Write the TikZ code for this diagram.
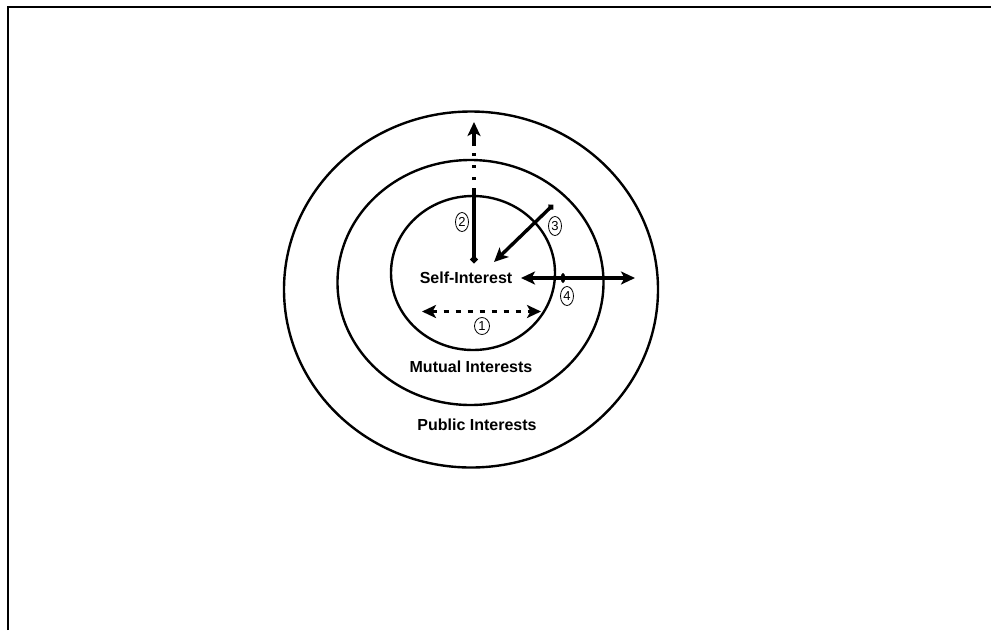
\documentclass[tikz,border=0pt]{standalone}
\usepackage{fontspec}
\setmainfont{Liberation Sans}
\usetikzlibrary{shapes.geometric,arrows.meta}
\tikzset{
  ring/.style={draw, ellipse, line width=2.4pt, inner sep=0pt, outer sep=0pt},
  lbl/.style={font=\fontsize{16}{19}\selectfont\bfseries, inner sep=0pt},
  num/.style={draw, ellipse, line width=0.8pt, inner sep=0pt, minimum width=13pt, minimum height=19pt, font=\fontsize{13}{15}\selectfont},
  shaft/.style={line width=3.4pt},
  headtip/.tip={Stealth[length=14pt,width=13pt,inset=3.5pt]},
  dottip/.tip={Circle[length=7pt]},
  mark4/.style={fill, ellipse, minimum width=4.5pt, minimum height=10pt, inner sep=0pt}
}
\begin{document}
\begin{tikzpicture}[x=1pt,y=-1pt]
\useasboundingbox (0,0) rectangle (991,630);
\fill[white] (0,0) rectangle (991,630);
% frame
\draw[line width=2.5pt] (8,630) -- (8,7) -- (991,7);
% rings
\node[ring, minimum width=374pt, minimum height=356pt] (outer) at (471,289.5) {};
\node[ring, minimum width=266pt, minimum height=245pt] (middle) at (470.5,282.5) {};
\node[ring, minimum width=164pt, minimum height=154pt] (inner) at (473,273) {};
% labels
\node[lbl] (self) at (466,278) {Self-Interest};
\node[lbl] (mutual) at (471,367) {Mutual Interests};
\node[lbl] (public) at (477,425) {Public Interests};
% number tags
\node[num] (n2) at (462,222) {2};
\node[num] (n3) at (555,226) {3};
\node[num] (n4) at (567,296) {4};
\node[num, minimum width=15pt, minimum height=17pt] (n1) at (482,326) {1};
% arrow 2
\coordinate (a2s) at (474,263);
\coordinate (a2b) at (474,188);
\coordinate (a2c) at (474,180);
\coordinate (a2d) at (474,152);
\coordinate (a2m) at (474,146);
\coordinate (a2t) at (474,122);
\draw[shaft, dottip-] (a2s) -- (a2b);
\draw[shaft, dash pattern=on 3pt off 9pt] (a2c) -- (a2d);
\draw[shaft, -headtip] (a2m) -- (a2t);
% arrow 3
\coordinate (a3s) at (553,205);
\coordinate (a3t) at (494,262);
\draw[shaft, {Circle[length=6pt]}-headtip] (a3s) -- (a3t);
% arrow 4
\coordinate (a4l) at (521,278);
\coordinate (a4r) at (635,278);
\draw[shaft, headtip-headtip] (a4l) -- (a4r);
\node[mark4] (m4) at (563,278) {};
% arrow 1
\coordinate (a1l) at (422,311.5);
\coordinate (a1r) at (541,311.5);
\draw[shaft, dash pattern=on 5pt off 7pt, headtip-headtip] (a1l) -- (a1r);
\end{tikzpicture}
\end{document}
